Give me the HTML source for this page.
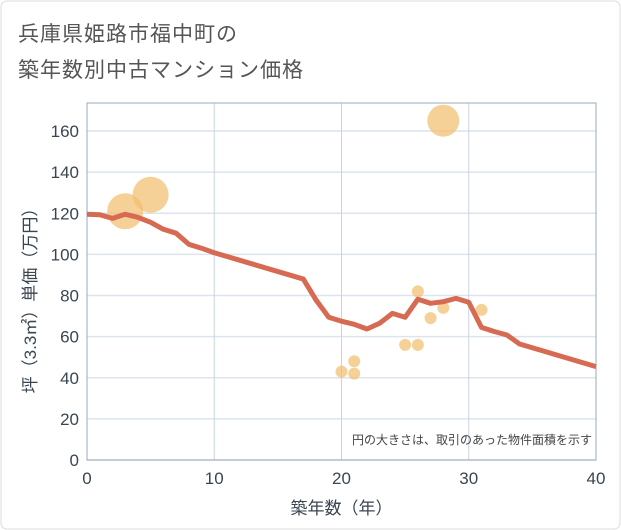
<!DOCTYPE html>
<html><head><meta charset="utf-8"><style>
body{margin:0;background:#fff;}
#wrap{position:relative;width:621px;height:530px;font-family:"Liberation Sans","Noto Sans CJK JP",sans-serif;}
.t{position:absolute;left:18px;font-size:21px;color:#555;letter-spacing:1px;z-index:2;}
</style></head><body>
<div id="wrap">
<svg id="svg" width="621" height="530" style="position:absolute;left:0;top:0;z-index:1"></svg>
<div class="t" style="top:18px">兵庫県姫路市福中町の</div>
<div class="t" style="top:54px">築年数別中古マンション価格</div>
</div>
<script>
const lineX=[0,1,2,3,4,5,6,7,8,9,10,17,18,19,20,21,22,23,24,25,26,27,28,29,30,31,32,33,34,40];
const lineY=[119.5,119.3,117.5,119.5,118,115.6,112.2,110.3,104.9,103,100.8,88,77.8,69.4,67.5,66,63.7,66.5,71.3,69.4,78.2,76.2,77,78.6,76.7,64.5,62.5,60.8,56.4,45.4];
const bubX=[3,5,28,26,28,31,27,25,26,21,20,21];
const bubY=[121,129,165,82,74,73,69,56,56,48,43,42];
const bubR=[18,18,16,6,6,6,6,6,6,6,6,6];
const xTicks=[0,10,20,30,40];
const yTicks=[0,20,40,60,80,100,120,140,160];
const NS="http://www.w3.org/2000/svg";
const svg=document.getElementById('svg');
const L=87,R=596,B=460,T=103;
const sx=v=>L+(R-L)*v/40;
const sy=v=>B-(B-131)*v/160;
function mk(tag,attrs){const e=document.createElementNS(NS,tag);for(const k in attrs)e.setAttribute(k,attrs[k]);svg.appendChild(e);return e;}
let bg=mk('rect',{x:1,y:1,width:619,height:528,rx:6,fill:'#fff',stroke:'#ddd'});


yTicks.forEach(v=>{
 const g=mk('line',{x1:L,x2:R,y1:sy(v),y2:sy(v),stroke:'#dce4ee','stroke-width':1.5});
 
 
 const t=mk('text',{x:L-8,y:sy(v)+6,'text-anchor':'end','font-size':17,fill:'#3a4552'});
 t.textContent=v;
 
 
});
xTicks.forEach(v=>{
 const g=mk('line',{x1:sx(v),x2:sx(v),y1:T,y2:B,stroke:'#c8d4e2','stroke-width':1});
 
 
 const t=mk('text',{x:sx(v),y:B+24,'text-anchor':'middle','font-size':17,fill:'#3a4552'});
 t.textContent=v;
 
 
});
let fr=mk('rect',{x:L,y:T,width:R-L,height:B-T,fill:'none',stroke:'#9aa8b8','stroke-width':1});


bubX.forEach((x,i)=>{
 const c=mk('circle',{cx:sx(x),cy:sy(bubY[i]),r:bubR[i],fill:'#f2bd6b','fill-opacity':0.7});
 
 
});
const p=mk('polyline',{points:lineX.map((x,i)=>sx(x)+','+sy(lineY[i])).join(' '),fill:'none',stroke:'#d66a53','stroke-width':5,'stroke-linejoin':'round'});


const xt=mk('text',{x:(L+R)/2,y:514,'text-anchor':'middle','font-size':17,fill:'#3a4552'});
xt.textContent='築年数（年）';


const yt=mk('text',{x:0,y:0,'text-anchor':'middle','font-size':17,fill:'#3a4552',transform:'translate(36,'+((T+B)/2+15)+') rotate(-90)'});
yt.textContent='坪（3.3㎡）単価（万円）';


const note=mk('text',{x:592,y:444,'text-anchor':'end','font-size':12,fill:'#444'});
note.textContent='円の大きさは、取引のあった物件面積を示す';


</script>
</body></html>
